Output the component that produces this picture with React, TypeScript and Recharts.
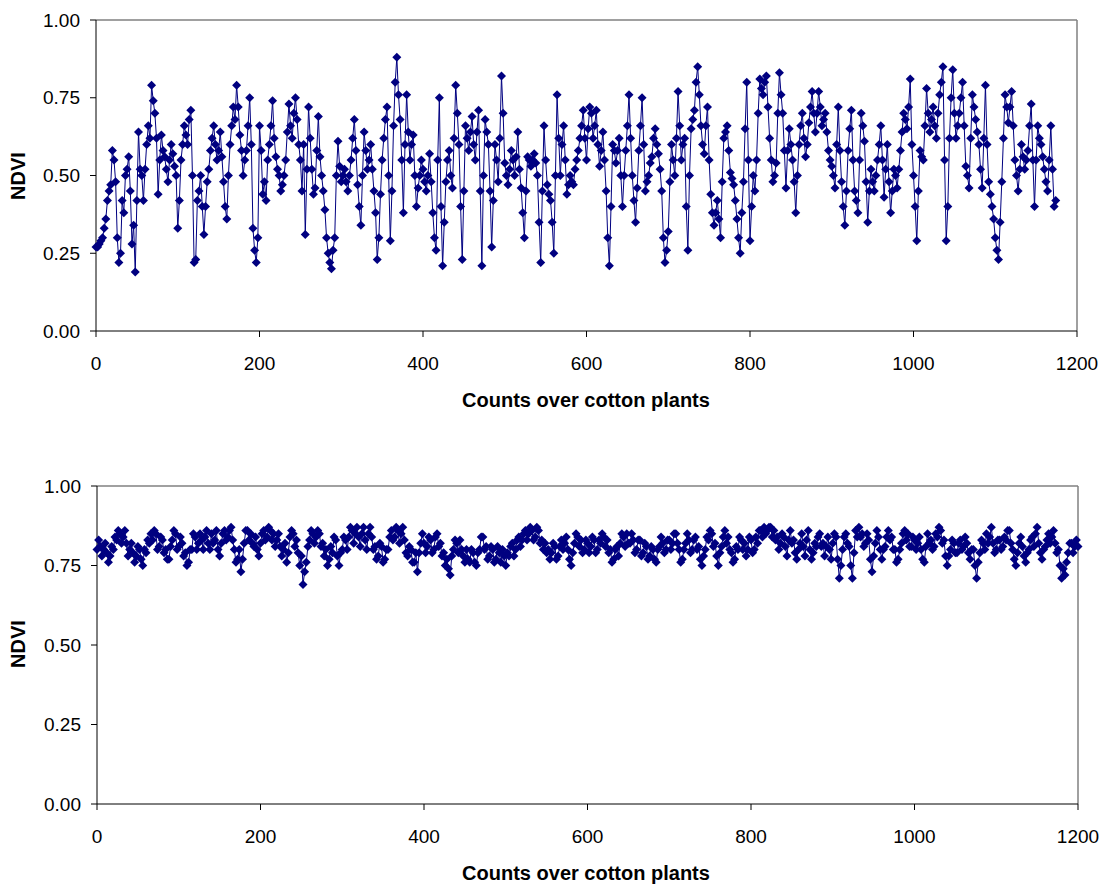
import React from "react";
import { LineChart, Line, XAxis, YAxis, ReferenceLine } from "recharts";

// NDVI readings, one every 2 counts along the row
const STEP = 2;

const upperNdvi = [
  // 0 - 198
  0.27, 0.27, 0.28, 0.29, 0.3, 0.33, 0.36, 0.42, 0.45, 0.47,
  0.58, 0.55, 0.48, 0.3, 0.22, 0.25, 0.42, 0.38, 0.5, 0.52,
  0.56, 0.45, 0.28, 0.34, 0.19, 0.42, 0.64, 0.52, 0.5, 0.42,
  0.52, 0.6, 0.66, 0.62, 0.79, 0.74, 0.7, 0.62, 0.44, 0.55,
  0.63, 0.58, 0.56, 0.52, 0.48, 0.55, 0.6, 0.57, 0.53, 0.5,
  0.33, 0.42, 0.55, 0.6, 0.66, 0.63, 0.6, 0.68, 0.71, 0.5,
  0.22, 0.23, 0.42, 0.45, 0.5, 0.4, 0.31, 0.4, 0.48, 0.52,
  0.58, 0.62, 0.66, 0.6, 0.55, 0.58, 0.64, 0.56, 0.48, 0.4,
  0.36, 0.5, 0.6, 0.66, 0.72, 0.68, 0.79, 0.72, 0.63, 0.58,
  0.5, 0.55, 0.58, 0.66, 0.75, 0.6, 0.33, 0.26, 0.22, 0.3,
  // 200 - 398
  0.66, 0.58, 0.44, 0.48, 0.42, 0.55, 0.6, 0.66, 0.74, 0.62,
  0.56, 0.52, 0.5, 0.45, 0.47, 0.5, 0.55, 0.64, 0.73, 0.66,
  0.62, 0.7, 0.75, 0.68, 0.6, 0.55, 0.45, 0.6, 0.31, 0.52,
  0.72, 0.62, 0.52, 0.44, 0.46, 0.58, 0.69, 0.56, 0.5, 0.45,
  0.39, 0.3, 0.25, 0.22, 0.2, 0.26, 0.3, 0.5, 0.61, 0.53,
  0.48, 0.5, 0.52, 0.48, 0.45, 0.5, 0.55, 0.62, 0.68, 0.58,
  0.47, 0.4, 0.34, 0.5, 0.64, 0.58, 0.52, 0.55, 0.6, 0.52,
  0.45, 0.38, 0.23, 0.3, 0.44, 0.55, 0.62, 0.68, 0.72, 0.5,
  0.29, 0.45, 0.66, 0.8, 0.88, 0.76, 0.68, 0.55, 0.38, 0.6,
  0.76, 0.64, 0.55, 0.6, 0.63, 0.5, 0.4, 0.46, 0.5, 0.55,
  // 400 - 598
  0.52, 0.48, 0.45, 0.5, 0.57, 0.48, 0.38, 0.3, 0.26, 0.55,
  0.75, 0.4, 0.21, 0.35, 0.48, 0.55, 0.58, 0.5, 0.46, 0.62,
  0.79, 0.7, 0.6, 0.4, 0.23, 0.45, 0.66, 0.62, 0.58, 0.64,
  0.69, 0.6, 0.55, 0.64, 0.71, 0.45, 0.21, 0.5, 0.68, 0.64,
  0.6, 0.45, 0.27, 0.42, 0.6, 0.55, 0.48, 0.62, 0.82, 0.7,
  0.54, 0.5, 0.47, 0.52, 0.58, 0.55, 0.5, 0.56, 0.64, 0.52,
  0.46, 0.38, 0.3, 0.45, 0.56, 0.55, 0.53, 0.55, 0.57, 0.54,
  0.5, 0.35, 0.22, 0.45, 0.66, 0.55, 0.47, 0.44, 0.42, 0.35,
  0.25, 0.5, 0.76, 0.62, 0.5, 0.6, 0.66, 0.55, 0.44, 0.47,
  0.5, 0.48, 0.47, 0.52, 0.55, 0.58, 0.62, 0.66, 0.71, 0.62,
  // 600 - 798
  0.55, 0.65, 0.72, 0.7, 0.62, 0.66, 0.71, 0.6, 0.53, 0.58,
  0.64, 0.55, 0.45, 0.3, 0.21, 0.4, 0.6, 0.58, 0.54, 0.58,
  0.62, 0.5, 0.4, 0.5, 0.58, 0.66, 0.76, 0.62, 0.5, 0.42,
  0.35, 0.46, 0.58, 0.66, 0.75, 0.6, 0.45, 0.48, 0.5, 0.54,
  0.56, 0.62, 0.65, 0.6, 0.57, 0.52, 0.45, 0.3, 0.22, 0.26,
  0.32, 0.48, 0.6, 0.55, 0.5, 0.62, 0.77, 0.66, 0.55, 0.6,
  0.62, 0.4, 0.26, 0.5, 0.65, 0.68, 0.71, 0.8, 0.85, 0.76,
  0.66, 0.6, 0.57, 0.66, 0.72, 0.55, 0.44, 0.38, 0.34, 0.38,
  0.42, 0.36, 0.3, 0.48, 0.62, 0.64, 0.66, 0.58, 0.51, 0.49,
  0.47, 0.42, 0.36, 0.3, 0.25, 0.38, 0.48, 0.65, 0.8, 0.55,
  // 800 - 998
  0.29, 0.4, 0.5, 0.45, 0.55, 0.7, 0.81, 0.78, 0.76, 0.8,
  0.82, 0.72, 0.62, 0.55, 0.48, 0.5, 0.54, 0.7, 0.83, 0.76,
  0.7, 0.58, 0.46, 0.58, 0.65, 0.6, 0.55, 0.48, 0.38, 0.5,
  0.6, 0.66, 0.7, 0.62, 0.56, 0.6, 0.67, 0.72, 0.77, 0.7,
  0.64, 0.7, 0.77, 0.72, 0.66, 0.68, 0.7, 0.64, 0.58, 0.55,
  0.53, 0.5, 0.46, 0.6, 0.72, 0.58, 0.48, 0.4, 0.34, 0.45,
  0.58, 0.65, 0.71, 0.55, 0.45, 0.42, 0.38, 0.55, 0.7, 0.66,
  0.61, 0.48, 0.35, 0.45, 0.52, 0.48, 0.45, 0.5, 0.55, 0.6,
  0.66, 0.55, 0.43, 0.52, 0.6, 0.48, 0.38, 0.45, 0.52, 0.5,
  0.46, 0.52, 0.58, 0.64, 0.7, 0.68, 0.65, 0.72, 0.81, 0.6,
  // 1000 - 1174
  0.5, 0.4, 0.29, 0.45, 0.58, 0.56, 0.55, 0.66, 0.78, 0.7,
  0.64, 0.68, 0.72, 0.66, 0.62, 0.7, 0.76, 0.8, 0.85, 0.55,
  0.29, 0.4, 0.62, 0.75, 0.84, 0.7, 0.62, 0.66, 0.7, 0.75,
  0.8, 0.66, 0.53, 0.5, 0.46, 0.62, 0.76, 0.72, 0.68, 0.64,
  0.6, 0.52, 0.46, 0.62, 0.79, 0.6, 0.48, 0.44, 0.4, 0.36,
  0.3, 0.26, 0.23, 0.35, 0.48, 0.62, 0.76, 0.72, 0.67, 0.72,
  0.77, 0.66, 0.55, 0.5, 0.45, 0.52, 0.6, 0.56, 0.52, 0.55,
  0.58, 0.66, 0.73, 0.55, 0.4, 0.55, 0.66, 0.62, 0.6, 0.56,
  0.52, 0.48, 0.45, 0.55, 0.66, 0.52, 0.4, 0.42,
];

const lowerNdvi = [
  // 0 - 398
  0.8, 0.83, 0.81, 0.78, 0.8, 0.82, 0.79, 0.76, 0.78, 0.81, 0.8, 0.84, 0.83, 0.86, 0.85, 0.82, 0.84, 0.86, 0.82, 0.78,
  0.8, 0.82, 0.79, 0.76, 0.78, 0.81, 0.8, 0.77, 0.75, 0.8, 0.79, 0.83, 0.82, 0.85, 0.83, 0.86, 0.85, 0.8, 0.81, 0.84,
  0.83, 0.79, 0.8, 0.77, 0.77, 0.81, 0.83, 0.86, 0.85, 0.8, 0.81, 0.84, 0.82, 0.78, 0.79, 0.75, 0.76, 0.8, 0.8, 0.85,
  0.84, 0.8, 0.82, 0.85, 0.83, 0.8, 0.84, 0.86, 0.82, 0.8, 0.85, 0.82, 0.83, 0.86, 0.8, 0.78, 0.82, 0.85, 0.86, 0.83,
  0.84, 0.86, 0.87, 0.83, 0.8, 0.76, 0.77, 0.8, 0.73, 0.77, 0.82, 0.86, 0.86, 0.83, 0.85, 0.82, 0.81, 0.84, 0.8, 0.78,
  0.82, 0.85, 0.86, 0.83, 0.84, 0.87, 0.86, 0.83, 0.85, 0.81, 0.83, 0.85, 0.81, 0.78, 0.8, 0.82, 0.76, 0.79, 0.84, 0.86,
  0.85, 0.81, 0.83, 0.79, 0.75, 0.78, 0.69, 0.73, 0.76, 0.81, 0.83, 0.86, 0.85, 0.82, 0.84, 0.86, 0.85, 0.81, 0.82, 0.78,
  0.8, 0.75, 0.77, 0.81, 0.79, 0.84, 0.83, 0.78, 0.75, 0.79, 0.8, 0.84, 0.83, 0.8, 0.84, 0.87, 0.86, 0.82, 0.85, 0.87,
  0.84, 0.81, 0.85, 0.87, 0.83, 0.8, 0.85, 0.87, 0.84, 0.8, 0.81, 0.77, 0.78, 0.82, 0.81, 0.76, 0.77, 0.8, 0.8, 0.84,
  0.86, 0.83, 0.84, 0.87, 0.86, 0.82, 0.85, 0.87, 0.83, 0.79, 0.78, 0.81, 0.8, 0.76, 0.76, 0.79, 0.73, 0.79, 0.82, 0.85,
  // 400 - 798
  0.82, 0.79, 0.81, 0.84, 0.83, 0.79, 0.8, 0.84, 0.85, 0.81, 0.82, 0.78, 0.79, 0.75, 0.77, 0.74, 0.72, 0.78, 0.8, 0.83,
  0.82, 0.79, 0.83, 0.8, 0.78, 0.76, 0.8, 0.77, 0.76, 0.8, 0.79, 0.76, 0.75, 0.79, 0.8, 0.84, 0.84, 0.8, 0.81, 0.77,
  0.78, 0.81, 0.8, 0.76, 0.77, 0.81, 0.79, 0.76, 0.8, 0.78, 0.75, 0.79, 0.78, 0.81, 0.82, 0.78, 0.8, 0.83, 0.84, 0.81,
  0.83, 0.85, 0.86, 0.83, 0.85, 0.87, 0.86, 0.83, 0.84, 0.87, 0.86, 0.82, 0.83, 0.8, 0.82, 0.79, 0.8, 0.77, 0.79, 0.82,
  0.81, 0.77, 0.78, 0.81, 0.83, 0.8, 0.82, 0.84, 0.8, 0.77, 0.75, 0.79, 0.82, 0.85, 0.84, 0.81, 0.83, 0.79, 0.8, 0.83,
  0.82, 0.79, 0.81, 0.84, 0.83, 0.79, 0.8, 0.83, 0.82, 0.85, 0.84, 0.81, 0.83, 0.79, 0.8, 0.76, 0.77, 0.8, 0.81, 0.78,
  0.82, 0.85, 0.84, 0.81, 0.85, 0.82, 0.82, 0.85, 0.83, 0.79, 0.8, 0.83, 0.83, 0.78, 0.79, 0.82, 0.81, 0.77, 0.78, 0.81,
  0.8, 0.77, 0.76, 0.8, 0.81, 0.84, 0.82, 0.79, 0.8, 0.83, 0.83, 0.8, 0.82, 0.85, 0.85, 0.82, 0.8, 0.76, 0.77, 0.8,
  0.82, 0.85, 0.83, 0.79, 0.8, 0.83, 0.84, 0.8, 0.81, 0.77, 0.75, 0.78, 0.8, 0.84, 0.83, 0.86, 0.85, 0.81, 0.82, 0.78,
  0.75, 0.79, 0.81, 0.84, 0.86, 0.82, 0.84, 0.8, 0.79, 0.76, 0.77, 0.81, 0.8, 0.84, 0.83, 0.8, 0.82, 0.78, 0.8, 0.84,
  // 800 - 1198
  0.83, 0.79, 0.8, 0.84, 0.82, 0.86, 0.86, 0.84, 0.87, 0.85, 0.86, 0.87, 0.87, 0.84, 0.86, 0.83, 0.84, 0.8, 0.82, 0.85,
  0.84, 0.81, 0.78, 0.83, 0.86, 0.82, 0.83, 0.79, 0.77, 0.8, 0.82, 0.85, 0.81, 0.78, 0.83, 0.86, 0.8, 0.77, 0.79, 0.82,
  0.81, 0.84, 0.85, 0.81, 0.82, 0.78, 0.81, 0.84, 0.8, 0.77, 0.82, 0.85, 0.84, 0.77, 0.71, 0.75, 0.8, 0.84, 0.85, 0.82,
  0.81, 0.75, 0.71, 0.79, 0.86, 0.84, 0.87, 0.84, 0.85, 0.81, 0.82, 0.85, 0.83, 0.77, 0.73, 0.78, 0.82, 0.86, 0.84, 0.8,
  0.77, 0.8, 0.81, 0.84, 0.86, 0.83, 0.84, 0.8, 0.8, 0.76, 0.77, 0.8, 0.82, 0.85, 0.86, 0.83, 0.85, 0.81, 0.81, 0.84,
  0.83, 0.8, 0.82, 0.84, 0.8, 0.77, 0.76, 0.81, 0.85, 0.82, 0.83, 0.8, 0.81, 0.85, 0.84, 0.87, 0.86, 0.82, 0.83, 0.78,
  0.75, 0.78, 0.8, 0.83, 0.82, 0.79, 0.79, 0.82, 0.83, 0.8, 0.81, 0.84, 0.82, 0.79, 0.77, 0.8, 0.8, 0.75, 0.71, 0.76,
  0.79, 0.83, 0.82, 0.8, 0.85, 0.82, 0.84, 0.87, 0.82, 0.79, 0.8, 0.83, 0.83, 0.8, 0.81, 0.84, 0.83, 0.86, 0.86, 0.82,
  0.8, 0.77, 0.75, 0.79, 0.82, 0.84, 0.81, 0.78, 0.76, 0.79, 0.8, 0.83, 0.84, 0.81, 0.85, 0.87, 0.82, 0.79, 0.77, 0.8,
  0.81, 0.83, 0.85, 0.82, 0.84, 0.86, 0.82, 0.79, 0.8, 0.75, 0.71, 0.74, 0.72, 0.76, 0.79, 0.82, 0.82, 0.79, 0.81, 0.83,
  // 1200
  0.81,
];

const xTicks = [0, 200, 400, 600, 800, 1000, 1200];
const yTicks = [0, 0.25, 0.5, 0.75, 1];

const NAVY = "#000080";
const FONT = "Arial, 'Liberation Sans', Helvetica, sans-serif";

const toRows = (values: number[]) =>
  values.map((ndvi, i) => ({ count: i * STEP, ndvi }));

// Excel-style diamond marker
const Diamond = (props: any) => {
  const { cx, cy } = props;
  if (cx == null || cy == null) return null;
  const r = 4.5;
  return (
    <polygon
      points={`${cx},${cy - r} ${cx + r},${cy} ${cx},${cy + r} ${cx - r},${cy}`}
      fill={NAVY}
    />
  );
};

const tickStyle = { fill: "#000", fontSize: 19, fontFamily: FONT };

interface PanelProps {
  values: number[];
  top: number;
  margin: { top: number; right: number; left: number; bottom: number };
  titleY: number;
  ndviY: number;
}

function NdviPanel({ values, top, margin, titleY, ndviY }: PanelProps) {
  return (
    <div style={{ position: "absolute", left: 0, top, width: 1102, height: 443 }}>
      <LineChart width={1102} height={443} data={toRows(values)} margin={margin}>
        <XAxis
          dataKey="count"
          type="number"
          domain={[0, 1200]}
          ticks={xTicks}
          tick={tickStyle}
          tickLine={{ stroke: "#000" }}
          axisLine={{ stroke: "#000" }}
          tickMargin={20}
          interval={0}
        />
        <YAxis
          domain={[0, 1]}
          ticks={yTicks}
          tick={tickStyle}
          tickLine={{ stroke: "#000" }}
          axisLine={{ stroke: "#000" }}
          tickMargin={10}
          interval={0}
          tickFormatter={(v: number) => v.toFixed(2)}
        />
        <ReferenceLine y={1} stroke="#808080" strokeWidth={1.5} />
        <ReferenceLine x={1200} stroke="#808080" strokeWidth={1.5} />
        <Line
          type="linear"
          dataKey="ndvi"
          stroke={NAVY}
          strokeWidth={1}
          dot={<Diamond />}
          isAnimationActive={false}
        />
      </LineChart>
      <div
        style={{
          position: "absolute",
          left: 586,
          top: titleY,
          transform: "translate(-50%, -50%)",
          fontFamily: FONT,
          fontWeight: "bold",
          fontSize: 20,
          whiteSpace: "nowrap",
        }}
      >
        Counts over cotton plants
      </div>
      <div
        style={{
          position: "absolute",
          left: 18,
          top: ndviY,
          transform: "translate(-50%, -50%) rotate(-90deg)",
          fontFamily: FONT,
          fontWeight: "bold",
          fontSize: 20,
          whiteSpace: "nowrap",
        }}
      >
        NDVI
      </div>
    </div>
  );
}

export default function App() {
  return (
    <div style={{ position: "absolute", left: 0, top: 0, width: 1102, height: 886, background: "#fff" }}>
      <NdviPanel
        values={upperNdvi}
        top={0}
        margin={{ top: 20, right: 25, left: 36, bottom: 82 }}
        titleY={400}
        ndviY={176}
      />
      <NdviPanel
        values={lowerNdvi}
        top={443}
        margin={{ top: 43, right: 24, left: 37, bottom: 52 }}
        titleY={430}
        ndviY={201}
      />
    </div>
  );
}
